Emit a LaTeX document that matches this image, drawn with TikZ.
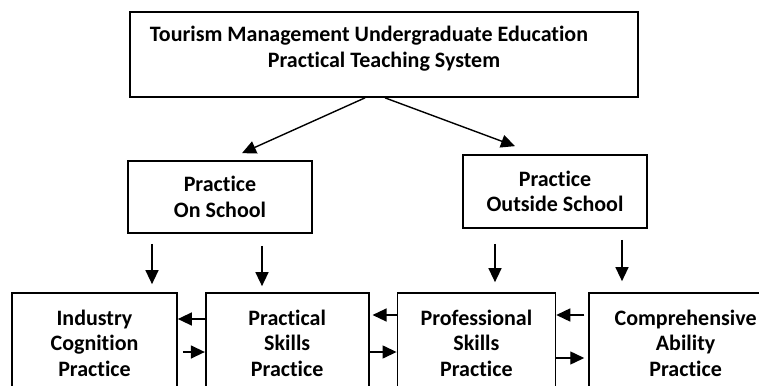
\documentclass[tikz,border=0pt]{standalone}
\usepackage{fontspec}
\setmainfont{Carlito}[Ligatures=NoCommon, Contextuals=NoAlternate]
\usepackage{tikz}
\usetikzlibrary{arrows.meta, positioning}

\begin{document}
\begin{tikzpicture}[x=1pt, y=-1pt, font=\fontsize{22}{25.5}\selectfont\bfseries, >={Triangle[length=14pt, width=13pt]},
  levelbox/.style={draw, line width=1.7pt, align=center, inner sep=0pt},
  flow/.style={->, line width=1.4pt}]
\useasboundingbox (0,0) rectangle (759,385);
\clip (0,0) rectangle (759,385);
\node[levelbox, minimum width=508pt, minimum height=85pt] (system) at (384,54.5) {Tourism Management Undergraduate Education\hspace*{30pt}\\Practical Teaching System\\[-10pt]\mbox{}};
\node[levelbox, minimum width=184pt, minimum height=72pt] (onschool) at (220,197) {Practice\\On School};
\node[levelbox, minimum width=184pt, minimum height=73pt] (outside) at (555,191.5) {Practice\\Outside School};
% bottom row runs past the lower edge
\node[levelbox, minimum width=165pt, minimum height=100pt] (industry) at (94.5,343) {Industry\\Cognition\\Practice};
\node[levelbox, minimum width=163pt, minimum height=100pt, right=27pt of industry] (skills) {Practical\\Skills\\Practice};
\node[levelbox, minimum width=158pt, minimum height=100pt, right=27pt of skills] (professional) {Professional\\Skills\\Practice};
\node[levelbox, minimum width=193pt, minimum height=100pt, right=32pt of professional] (ability) {Comprehensive\\Ability\\Practice};
\draw[flow] ([xshift=-19pt]system.south) -- ([xshift=22pt, yshift=7pt]onschool.north);
\draw[flow] ([xshift=1pt]system.south) -- ([xshift=-40pt, yshift=8pt]outside.north);
\draw[flow, shorten <=10pt, shorten >=8pt] ([xshift=-68pt]onschool.south) -- ([xshift=-68pt]onschool.south |- industry.north);
\draw[flow, shorten <=12pt, shorten >=6pt] ([xshift=42pt]onschool.south) -- ([xshift=42pt]onschool.south |- skills.north);
\draw[flow, shorten <=15pt, shorten >=10pt] ([xshift=-60pt]outside.south) -- ([xshift=-60pt]outside.south |- professional.north);
\draw[flow, shorten <=11pt, shorten >=11pt] ([xshift=67pt]outside.south) -- ([xshift=67pt]outside.south |- ability.north);
\draw[flow] ([yshift=24pt]skills.west) -- ([yshift=24pt]industry.east);
\draw[flow, shorten <=5pt] ([yshift=-9pt]industry.east) -- ([yshift=-9pt]skills.west);
\draw[flow, shorten >=3pt] ([yshift=28pt]professional.west) -- ([yshift=28pt]skills.east);
\draw[flow] ([yshift=-9pt]skills.east) -- ([yshift=-9pt]professional.west);
\draw[flow, shorten <=4pt] ([yshift=28pt]ability.west) -- ([yshift=28pt]professional.east);
\draw[flow, shorten >=4pt] ([yshift=-15pt]professional.east) -- ([yshift=-15pt]ability.west);
\end{tikzpicture}
\end{document}
